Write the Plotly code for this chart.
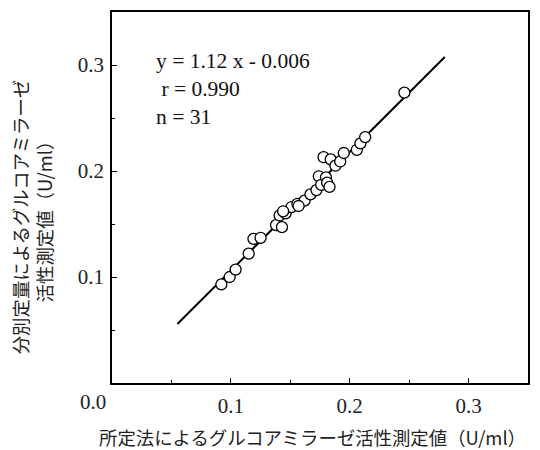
import plotly.graph_objects as go

# Data
x_vals = [0.092, 0.099, 0.104, 0.115, 0.119, 0.125, 0.138, 0.143, 0.141, 0.146,
          0.151, 0.156, 0.162, 0.167, 0.172, 0.174, 0.176, 0.180, 0.181, 0.183,
          0.178, 0.184, 0.188, 0.192, 0.195, 0.206, 0.209, 0.213, 0.246, 0.157,
          0.144]
y_vals = [0.093, 0.100, 0.107, 0.122, 0.136, 0.137, 0.149, 0.147, 0.158, 0.160,
          0.166, 0.169, 0.172, 0.178, 0.182, 0.195, 0.187, 0.194, 0.189, 0.185,
          0.213, 0.211, 0.205, 0.209, 0.217, 0.220, 0.226, 0.232, 0.274, 0.167,
          0.162]
slope = 1.12
intercept = -0.006
line_x = [0.055, 0.28]
line_y = [slope * v + intercept for v in line_x]

x_ticks = [0.1, 0.2, 0.3]
x_tick_text = ["0.1", "0.2", "0.3"]
y_ticks = [0.1, 0.2, 0.3]
y_tick_text = ["0.1", "0.2", "0.3"]

x_title = "所定法によるグルコアミラーゼ活性測定値（U/ml）"
y_title = "分別定量によるグルコアミラーゼ<br>活性測定値（U/ml）"
eq_text = "y = 1.12 x - 0.006<br> r = 0.990<br>n = 31"

serif = "Liberation Serif, Times New Roman, serif"
cjk = "Noto Sans CJK JP, sans-serif"

fig = go.Figure()
fig.add_trace(go.Scatter(x=line_x, y=line_y, mode="lines",
                         line=dict(color="black", width=2), showlegend=False))
fig.add_trace(go.Scatter(x=x_vals, y=y_vals, mode="markers",
                         marker=dict(size=11, color="white",
                                     line=dict(color="black", width=1.3)),
                         showlegend=False))

axis_common = dict(range=[0, 0.35], showgrid=False, zeroline=False,
                   showline=True, linecolor="black", linewidth=1.5, mirror=True,
                   ticks="inside", ticklen=5, tickcolor="black", tickwidth=1,
                   tickfont=dict(family=serif, size=21, color="#222"),
                   minor=dict(ticks="inside", ticklen=3, tickcolor="black",
                              tick0=0, dtick=0.05))

fig.update_xaxes(**axis_common, tickvals=x_ticks, ticktext=x_tick_text,
                 ticklabelstandoff=3)
fig.update_yaxes(**axis_common, tickvals=y_ticks, ticktext=y_tick_text,
                 ticklabelstandoff=2)

fig.add_annotation(x=0, y=0, xref="x", yref="paper", text="0.0",
                   showarrow=False, xanchor="center", yanchor="top",
                   xshift=-19, yshift=-5,
                   font=dict(family=serif, size=21, color="#222"))
fig.add_annotation(x=0.481, y=-0.145, xref="paper", yref="paper",
                   text=x_title, showarrow=False, xanchor="center",
                   yanchor="middle", font=dict(family=cjk, size=18.4, color="#222"))
fig.add_annotation(x=-0.1914, y=0.4477, xref="paper", yref="paper",
                   text=y_title, showarrow=False, textangle=-90,
                   xanchor="center", yanchor="middle",
                   font=dict(family=cjk, size=18.4, color="#222"))
fig.add_annotation(x=0.1, y=0.905, xref="paper", yref="paper",
                   text=eq_text, showarrow=False, xanchor="left",
                   yanchor="top", align="left",
                   font=dict(family=serif, size=21.5, color="#111"))

fig.update_layout(width=540, height=450, margin=dict(l=112, r=10, t=10, b=67),
                  paper_bgcolor="white", plot_bgcolor="white")

fig.write_html("out.html")
